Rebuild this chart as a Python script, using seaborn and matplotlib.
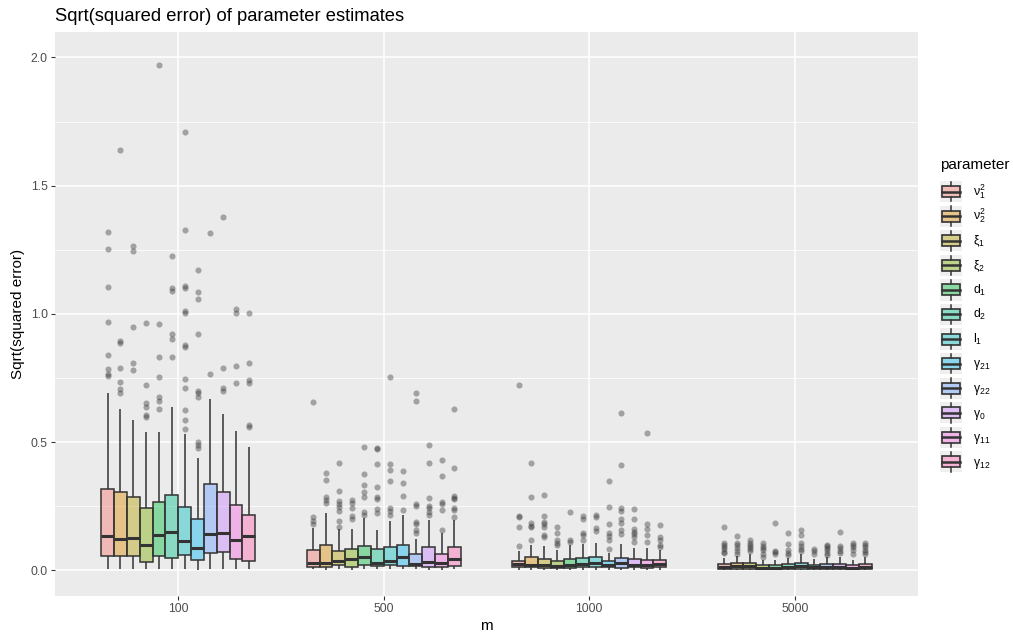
import numpy as np
import pandas as pd
import matplotlib
matplotlib.use("Agg")
import matplotlib.pyplot as plt
import seaborn as sns
from matplotlib.patches import Rectangle, Patch
from matplotlib.lines import Line2D
from matplotlib.legend_handler import HandlerBase
from matplotlib.ticker import MultipleLocator

# ---------------- data ----------------
m_levels = ["100", "500", "1000", "5000"]
param_keys = ["nu1", "nu2", "xi1", "xi2", "d1", "d2", "l1", "g21", "g22", "g0", "g11", "g12"]
param_labels = [r"$\mathrm{\nu}_1^2$", r"$\mathrm{\nu}_2^2$", r"$\mathrm{\xi}_1$", r"$\mathrm{\xi}_2$",
                r"$\mathrm{d}_1$", r"$\mathrm{d}_2$", r"$\mathrm{l}_1$", r"$\mathrm{\gamma}_{21}$",
                r"$\mathrm{\gamma}_{22}$", r"$\mathrm{\gamma}_0$", r"$\mathrm{\gamma}_{11}$", r"$\mathrm{\gamma}_{12}$"]
palette = ["#F8766D", "#DE8C00", "#B79F00", "#7CAE00", "#00BA38", "#00C08B",
           "#00BFC4", "#00B4F0", "#619CFF", "#C77CFF", "#F564E3", "#FF64B0"]

# m = 100
lo_100 = [0.005, 0.004, 0.005, 0.004, 0.005, 0.005, 0.004, 0.003, 0.005, 0.005, 0.004, 0.004]
q1_100 = [0.057, 0.057, 0.055, 0.034, 0.055, 0.050, 0.059, 0.041, 0.067, 0.073, 0.045, 0.038]
med_100 = [0.133, 0.122, 0.128, 0.099, 0.137, 0.151, 0.116, 0.087, 0.142, 0.145, 0.119, 0.133]
q3_100 = [0.317, 0.305, 0.288, 0.242, 0.266, 0.294, 0.249, 0.202, 0.336, 0.307, 0.255, 0.216]
hi_100 = [0.690, 0.629, 0.587, 0.541, 0.541, 0.638, 0.532, 0.440, 0.667, 0.610, 0.545, 0.480]
out_100 = [
    [1.32, 1.254, 1.106, 0.97, 0.84, 0.785, 0.765, 0.76],
    [1.64, 0.895, 0.885, 0.788, 0.736, 0.706, 0.693],
    [1.265, 1.244, 0.95, 0.81, 0.78],
    [0.963, 0.723, 0.654, 0.636, 0.606, 0.597],
    [1.971, 0.961, 0.833, 0.755, 0.677, 0.662, 0.628],
    [1.226, 1.102, 1.089, 0.92, 0.901, 0.833],
    [1.709, 1.326, 1.109, 1.10, 1.012, 1.005, 0.879, 0.87, 0.745, 0.712, 0.625, 0.587, 0.551],
    [1.17, 1.087, 1.057, 0.92, 0.701, 0.69, 0.677, 0.502, 0.489, 0.476],
    [1.315, 0.766],
    [1.379, 0.788, 0.71, 0.70],
    [1.02, 1.002, 0.797, 0.73],
    [1.002, 0.81, 0.742, 0.732, 0.567, 0.56],
]

# m = 500
lo_500 = [0.004, 0.003, 0.004, 0.003, 0.004, 0.004, 0.004, 0.004, 0.004, 0.003, 0.003, 0.004]
q1_500 = [0.015, 0.015, 0.021, 0.015, 0.020, 0.0175, 0.020, 0.019, 0.0175, 0.015, 0.012, 0.019]
med_500 = [0.028, 0.028, 0.038, 0.044, 0.051, 0.030, 0.038, 0.051, 0.025, 0.034, 0.028, 0.044]
q3_500 = [0.080, 0.101, 0.077, 0.083, 0.095, 0.083, 0.090, 0.101, 0.064, 0.093, 0.066, 0.090]
hi_500 = [0.164, 0.226, 0.160, 0.160, 0.203, 0.156, 0.192, 0.216, 0.1215, 0.197, 0.145, 0.195]
out_500 = [
    [0.658, 0.207, 0.194, 0.180],
    [0.379, 0.352, 0.285, 0.275, 0.264],
    [0.42, 0.31, 0.271, 0.259, 0.246, 0.233, 0.194, 0.171],
    [0.275, 0.262, 0.242, 0.212, 0.199],
    [0.483, 0.376, 0.333, 0.307, 0.288, 0.229, 0.216],
    [0.479, 0.472, 0.417, 0.327, 0.288, 0.277, 0.238, 0.223],
    [0.755, 0.417, 0.39, 0.347, 0.242, 0.233, 0.216],
    [0.389, 0.342, 0.291, 0.235],
    [0.69, 0.66, 0.259, 0.251, 0.19, 0.181, 0.156, 0.147],
    [0.488, 0.42, 0.281, 0.251, 0.242, 0.229, 0.216],
    [0.431, 0.369, 0.268, 0.259, 0.235, 0.156],
    [0.631, 0.398, 0.291, 0.284, 0.277, 0.242, 0.235, 0.207],
]

# m = 1000
lo_1000 = [0.003, 0.003, 0.002, 0.002, 0.002, 0.003, 0.003, 0.003, 0.002, 0.003, 0.002, 0.003]
q1_1000 = [0.0123, 0.0123, 0.0086, 0.0086, 0.0097, 0.012, 0.0123, 0.0123, 0.0086, 0.0123, 0.0097, 0.0123]
med_1000 = [0.0253, 0.0214, 0.0214, 0.0175, 0.0214, 0.0253, 0.028, 0.0227, 0.028, 0.0227, 0.0227, 0.0253]
q3_1000 = [0.038, 0.0514, 0.0436, 0.038, 0.046, 0.050, 0.0514, 0.0358, 0.0475, 0.0436, 0.0409, 0.0397]
hi_1000 = [0.075, 0.0994, 0.095, 0.081, 0.099, 0.105, 0.108, 0.070, 0.103, 0.089, 0.086, 0.080]
out_1000 = [
    [0.724, 0.212, 0.207, 0.168, 0.097],
    [0.418, 0.288, 0.186, 0.175, 0.168, 0.119],
    [0.294, 0.212, 0.19, 0.182, 0.171, 0.138, 0.132],
    [0.171, 0.147, 0.119, 0.108, 0.099],
    [0.228, 0.119, 0.11],
    [0.212, 0.2, 0.147, 0.138, 0.12],
    [0.216, 0.207, 0.164, 0.155],
    [0.35, 0.249, 0.181, 0.147, 0.134, 0.119, 0.083],
    [0.614, 0.412, 0.242, 0.233, 0.2, 0.184, 0.158, 0.142],
    [0.241, 0.202, 0.16, 0.151, 0.142, 0.132, 0.11],
    [0.537, 0.181, 0.16, 0.138, 0.112],
    [0.178, 0.132, 0.119, 0.099, 0.093],
]

# m = 5000
lo_5000 = [0.001, 0.001, 0.001, 0.001, 0.001, 0.001, 0.001, 0.001, 0.001, 0.001, 0.001, 0.001]
q1_5000 = [0.006, 0.006, 0.006, 0.006, 0.006, 0.006, 0.006, 0.006, 0.006, 0.006, 0.006, 0.006]
med_5000 = [0.013, 0.016, 0.018, 0.011, 0.011, 0.013, 0.017, 0.012, 0.014, 0.014, 0.011, 0.014]
q3_5000 = [0.024, 0.028, 0.030, 0.021, 0.021, 0.024, 0.030, 0.022, 0.026, 0.025, 0.021, 0.025]
hi_5000 = [0.050, 0.058, 0.064, 0.042, 0.042, 0.050, 0.064, 0.045, 0.054, 0.052, 0.042, 0.052]
out_5000 = [
    [0.168, 0.108, 0.099, 0.092, 0.085, 0.072, 0.067],
    [0.134, 0.108, 0.098, 0.088, 0.075, 0.065],
    [0.119, 0.106, 0.1, 0.093, 0.085, 0.077],
    [0.108, 0.095, 0.087, 0.08, 0.064, 0.052],
    [0.186, 0.075, 0.071, 0.064],
    [0.147, 0.103, 0.08, 0.068, 0.062],
    [0.158, 0.138, 0.108, 0.095, 0.083, 0.075],
    [0.083, 0.077, 0.066],
    [0.1, 0.095, 0.086, 0.078, 0.07, 0.062],
    [0.151, 0.095, 0.088, 0.075, 0.068],
    [0.108, 0.1, 0.092, 0.08, 0.065],
    [0.108, 0.1, 0.092, 0.08, 0.073, 0.065],
]

groups = {
    "100": (lo_100, q1_100, med_100, q3_100, hi_100, out_100),
    "500": (lo_500, q1_500, med_500, q3_500, hi_500, out_500),
    "1000": (lo_1000, q1_1000, med_1000, q3_1000, hi_1000, out_1000),
    "5000": (lo_5000, q1_5000, med_5000, q3_5000, hi_5000, out_5000),
}

# Build a sample per box whose quartiles/whiskers/outliers reproduce the read statistics
REP = 40
rows = []
for m in m_levels:
    lo, q1, med, q3, hi, out = groups[m]
    for i, key in enumerate(param_keys):
        vals = [lo[i]] + [q1[i]] * REP + [med[i]] * REP + [q3[i]] * REP + [hi[i]] + list(out[i])
        for v in vals:
            rows.append((m, key, v))
df = pd.DataFrame(rows, columns=["m", "parameter", "value"])

# ---------------- plotting ----------------
plt.rcParams["font.family"] = ["Liberation Sans", "DejaVu Sans"]
plt.rcParams["mathtext.fontset"] = "custom"
plt.rcParams["mathtext.rm"] = "Liberation Sans"
plt.rcParams["mathtext.it"] = "Liberation Sans:italic"

fig = plt.figure(figsize=(10.13, 6.37), dpi=100)
ax = fig.add_axes([55 / 1013, 1 - 596 / 637, (918 - 55) / 1013, (596 - 32) / 637])
ax.set_facecolor("#EBEBEB")
ax.set_axisbelow(True)

edge = "#333333"
sns.boxplot(
    data=df, x="m", y="value", hue="parameter", order=m_levels, hue_order=param_keys,
    palette=palette, saturation=1, width=0.75, gap=0, dodge=True, whis=1.5,
    linewidth=1.1, linecolor=edge, showcaps=False, fliersize=4.4,
    flierprops=dict(marker="o", markerfacecolor=edge, markeredgecolor="none", alpha=0.4),
    medianprops=dict(linewidth=2.2, color=edge),
    legend=False, ax=ax,
)
for p in ax.patches:
    fc = p.get_facecolor()
    p.set_facecolor((fc[0], fc[1], fc[2], 0.42))
    p.set_edgecolor(edge)

ax.set_xlim(-0.6, 3.6)
ax.set_ylim(-0.0994, 2.099)
ax.yaxis.set_major_locator(MultipleLocator(0.5))
ax.yaxis.set_minor_locator(MultipleLocator(0.25))
ax.set_yticks([0, 0.5, 1.0, 1.5, 2.0])
ax.set_yticklabels(["0.0", "0.5", "1.0", "1.5", "2.0"])
ax.grid(which="major", color="white", linewidth=1.1)
ax.grid(which="minor", axis="y", color="white", linewidth=0.55)
for s in ax.spines.values():
    s.set_visible(False)
ax.tick_params(which="major", length=3.0, width=0.8, color=edge, labelsize=8.8,
               labelcolor="#4D4D4D", pad=2.2)
ax.tick_params(which="minor", length=0)

ax.set_xlabel("m", fontsize=11, labelpad=3)
ax.set_ylabel("Sqrt(squared error)", fontsize=11, labelpad=4)
ax.set_title("Sqrt(squared error) of parameter estimates", loc="left", fontsize=13.2, pad=8)


class BoxHandler(HandlerBase):
    def create_artists(self, legend, orig_handle, xdescent, ydescent, width, height, fontsize, trans):
        x0, y0 = -xdescent, -ydescent
        fc = orig_handle.get_facecolor()
        cx = x0 + width / 2
        cy = y0 + height / 2
        bg = Rectangle((x0, y0), width, height, facecolor="#EFEFEF", edgecolor="none", transform=trans)
        w1 = Line2D([cx, cx], [y0 + height * 0.04, y0 + height * 0.24], color=edge, lw=1.1, transform=trans)
        w2 = Line2D([cx, cx], [y0 + height * 0.76, y0 + height * 0.96], color=edge, lw=1.1, transform=trans)
        box = Rectangle((x0 + width * 0.1, y0 + height * 0.24), width * 0.8, height * 0.52,
                        facecolor=fc, edgecolor=edge, lw=1.2, transform=trans)
        med = Line2D([x0 + width * 0.1, x0 + width * 0.9], [cy, cy],
                     color=edge, lw=1.8, transform=trans)
        return [bg, w1, w2, box, med]


handles = [Patch(facecolor=(*matplotlib.colors.to_rgb(c), 0.42)) for c in palette]
fig.text(940 / 1013, 1 - 165 / 637, "parameter", fontsize=11, ha="left", va="center")
leg = fig.legend(handles, param_labels, handler_map={Patch: BoxHandler()},
                 loc="upper left", bbox_to_anchor=(940 / 1013, 1 - 181 / 637),
                 bbox_transform=fig.transFigure, frameon=False,
                 fontsize=8.8, handlelength=1.8, handleheight=2.3,
                 labelspacing=0.27, handletextpad=0.9, borderpad=0, borderaxespad=0)

fig.savefig("out.png", dpi=100)
